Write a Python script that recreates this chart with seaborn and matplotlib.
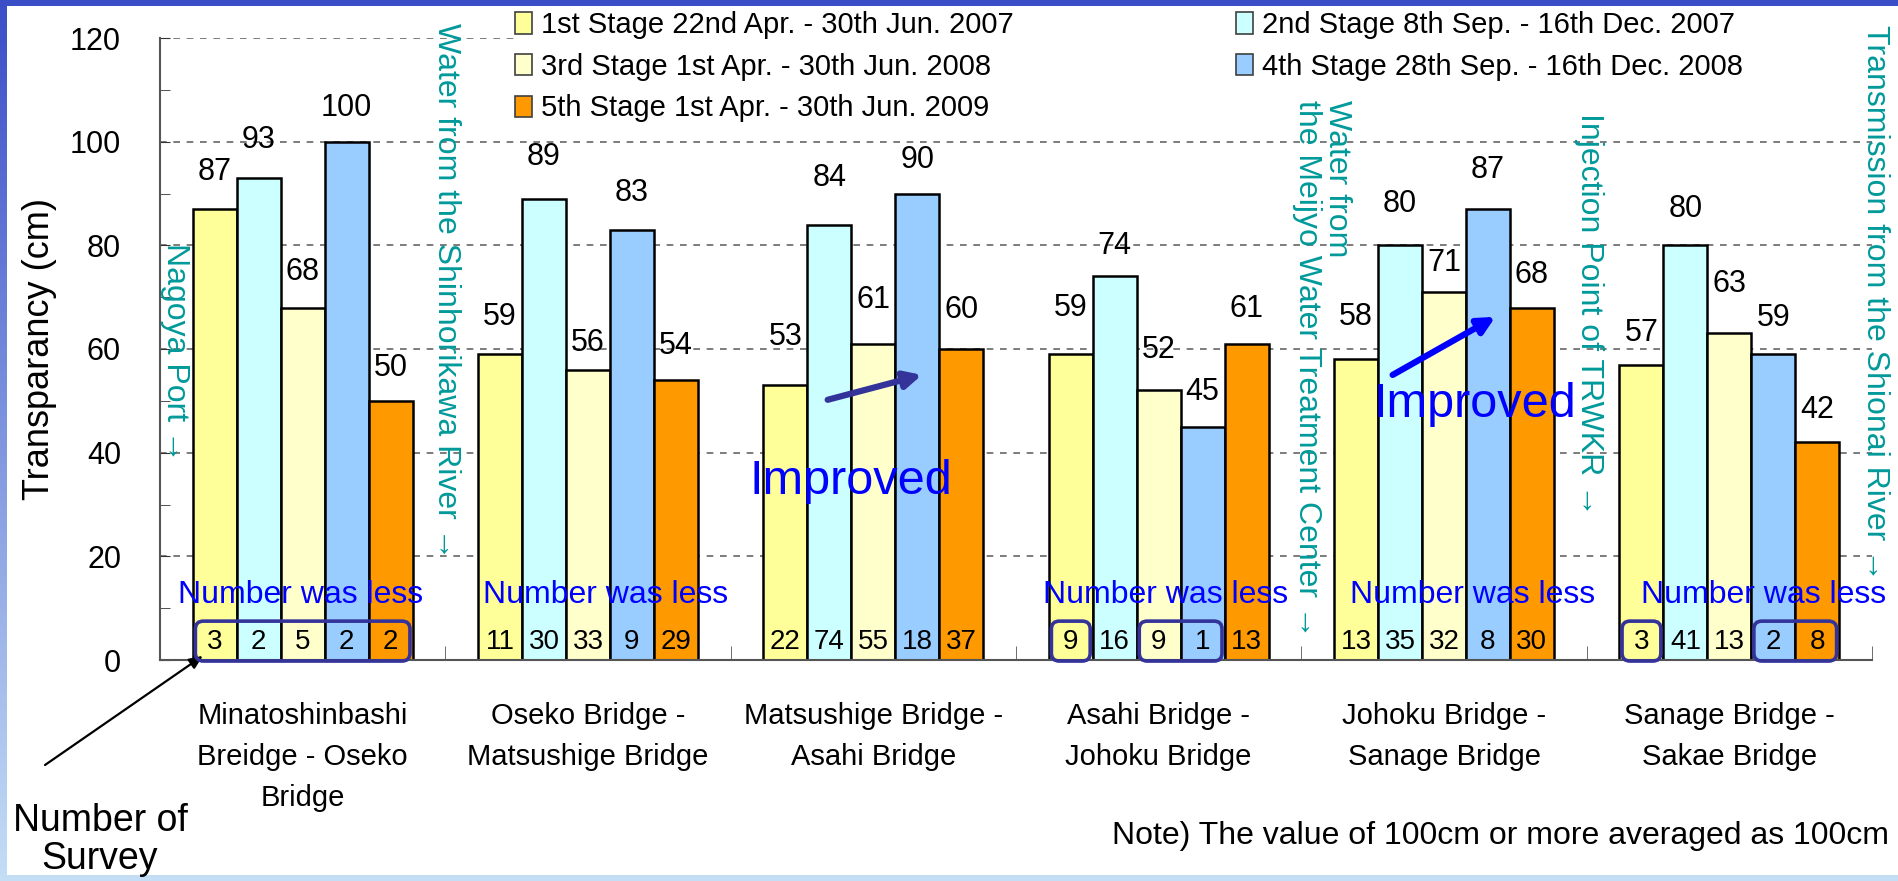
import matplotlib
matplotlib.use("Agg")
import matplotlib.pyplot as plt
import numpy as np
import pandas as pd
import seaborn as sns
from matplotlib import font_manager
from matplotlib.colors import LinearSegmentedColormap
from matplotlib.font_manager import FontProperties
from matplotlib.patches import FancyBboxPatch, Patch, Rectangle
from matplotlib.ticker import MultipleLocator, FixedLocator

# data
segments = ["Minatoshinbashi\nBreidge - Oseko\nBridge", "Oseko Bridge -\nMatsushige Bridge",
            "Matsushige Bridge -\nAsahi Bridge", "Asahi Bridge -\nJohoku Bridge",
            "Johoku Bridge -\nSanage Bridge", "Sanage Bridge -\nSakae Bridge"]
stages = ["1st Stage 22nd Apr. - 30th Jun. 2007", "2nd Stage 8th Sep. - 16th Dec. 2007",
          "3rd Stage 1st Apr. - 30th Jun. 2008", "4th Stage 28th Sep. - 16th Dec. 2008",
          "5th Stage 1st Apr. - 30th Jun. 2009"]
stage1 = [87, 59, 53, 59, 58, 57]
stage2 = [93, 89, 84, 74, 80, 80]
stage3 = [68, 56, 61, 52, 71, 63]
stage4 = [100, 83, 90, 45, 87, 59]
stage5 = [50, 54, 60, 61, 68, 42]
count1 = [3, 11, 22, 9, 13, 3]
count2 = [2, 30, 74, 16, 35, 41]
count3 = [5, 33, 55, 9, 32, 13]
count4 = [2, 9, 18, 1, 8, 2]
count5 = [2, 29, 37, 13, 30, 8]
values = [stage1, stage2, stage3, stage4, stage5]
counts = [count1, count2, count3, count4, count5]
colors = ["#ffff99", "#ccffff", "#ffffcc", "#99ccff", "#ff9900"]

# how far each value label sits above its bar (px), per segment / stage
label_lift = [[37, 38, 36, 34, 33], [37, 42, 27, 37, 34], [48, 47, 44, 34, 39],
              [46, 30, 40, 35, 35], [42, 41, 29, 39, 33], [32, 36, 49, 36, 32]]
# (segment, first stage, last stage) of the "few surveys" boxes
few_boxes = [(0, 0, 4), (3, 0, 0), (3, 2, 3), (5, 0, 0), (5, 3, 4)]

available = {f.name for f in font_manager.fontManager.ttflist}
REG = "Liberation Sans"
NARROW = "Liberation Sans Narrow" if "Liberation Sans Narrow" in available else REG
TEAL = "#009999"

rows = []
for st, vals in zip(stages, values):
    for seg, v in zip(segments, vals):
        rows.append((seg, st, v))
df = pd.DataFrame(rows, columns=["segment", "stage", "value"])

W, H = 1899, 881
fig = plt.figure(figsize=(W / 100, H / 100), dpi=100)

# slide background: vertical blue gradient with a white panel
bg = fig.add_axes([0, 0, 1, 1], zorder=0)
cmap = LinearSegmentedColormap.from_list("bg", ["#3a4ec8", "#c4def6"])
bg.imshow(np.linspace(0, 1, 256)[:, None], cmap=cmap, aspect="auto",
          extent=[0, 1, 0, 1], origin="upper")
bg.add_patch(Rectangle((7 / W, 6 / H), 1, 869 / H, transform=bg.transAxes,
                       facecolor="white", edgecolor="none"))
bg.axis("off")

ax = fig.add_axes([160 / W, 1 - 660 / H, 1712 / W, 622 / H], zorder=1)
sns.barplot(data=df, x="segment", y="value", hue="stage", order=segments,
            hue_order=stages, palette=colors, width=0.77, gap=0, saturation=1,
            edgecolor="black", linewidth=1.8, errorbar=None, legend=False, ax=ax)

ax.set_xlim(-0.5, 5.5)
ax.set_ylim(0, 120)
ax.yaxis.set_major_locator(MultipleLocator(20))
ax.yaxis.set_minor_locator(MultipleLocator(10))
# dashed gridlines; the top one stops where the legend box starts
for gy in range(20, 121, 20):
    ax.axhline(gy, xmax=0.207 if gy == 120 else 1, linestyle=(0, (4, 4)),
               color="#666666", linewidth=1.2, zorder=0.5)
for s in ["top", "right"]:
    ax.spines[s].set_visible(False)
for s in ["left", "bottom"]:
    ax.spines[s].set_color("#555555")
    ax.spines[s].set_linewidth(1.5)
ax.tick_params(axis="y", which="both", direction="in", length=7, color="#333333", pad=28)
ax.set_yticks(range(0, 121, 20))
ax.set_yticklabels([str(v) for v in range(0, 121, 20)], fontsize=22, family=NARROW)
ax.xaxis.set_minor_locator(FixedLocator(np.arange(0.5, 6, 1)))
ax.tick_params(axis="x", which="minor", direction="in", length=10, color="#555555")
ax.tick_params(axis="x", which="major", length=0, pad=30)
ax.set_xticks(range(len(segments)))
ax.set_xticklabels(segments, fontsize=21, family=NARROW, linespacing=1.6)
ax.set_xlabel("")
ax.set_ylabel("Transparancy (cm)", fontsize=26, family=REG)
ax.yaxis.set_label_coords(-0.060, 0.5)

# value labels and survey counts
for i, cont in enumerate(ax.containers):
    for j, bar in enumerate(cont):
        cx = bar.get_x() + bar.get_width() / 2
        ax.annotate(str(values[i][j]), (cx, values[i][j]), xytext=(0, label_lift[j][i] * 0.72),
                    textcoords="offset points", ha="center", va="center",
                    fontsize=22, family=REG, annotation_clip=False)
        ax.text(cx, 3.5, str(counts[i][j]), ha="center", va="center",
                fontsize=20, family=NARROW, zorder=6)

for seg, a, b in few_boxes:
    ba, bb = ax.containers[a][seg], ax.containers[b][seg]
    x0 = ba.get_x() + ba.get_width() / 2 - 0.068
    x1 = bb.get_x() + bb.get_width() / 2 + 0.068
    ax.add_patch(FancyBboxPatch((x0, -0.2), x1 - x0, 7.7,
                                boxstyle="round,pad=0,rounding_size=0.028", mutation_aspect=55,
                                fill=False, edgecolor="#333399", linewidth=2.6,
                                clip_on=False, zorder=7))

for xx in [-0.007, 1.06, 3.025, 4.10, 5.12]:
    ax.text(xx, 12.5, "Number was less", ha="center", va="center", fontsize=23,
            family=NARROW, color="#0000ff", zorder=8, clip_on=False)

ax.text(1.92, 34.5, "Improved", ha="center", va="center", fontsize=35, family=REG,
        color="#0000ff", zorder=8)
ax.text(4.107, 49.3, "Improved", ha="center", va="center", fontsize=35, family=REG,
        color="#0000ff", zorder=8)
ax.annotate("", xy=(2.17, 55.0), xytext=(1.84, 50.2),
            arrowprops=dict(arrowstyle="-|>,head_length=1.0,head_width=0.5",
                            color="#333399", lw=4.5, shrinkA=0, shrinkB=0), zorder=8)
ax.annotate("", xy=(4.18, 66.2), xytext=(3.82, 55.0),
            arrowprops=dict(arrowstyle="-|>,head_length=1.0,head_width=0.5",
                            color="#0000ff", lw=4.5, shrinkA=0, shrinkB=0), zorder=8)

# landmarks along the river
landmarks = [(-0.447, 80.5, "Nagoya Port \u2192"),
             (0.504, 122.8, "Water from the Shinhorikawa River \u2192"),
             (3.574, 108.1, "Water from\nthe Meijyo Water Treatment Center \u2192"),
             (4.507, 105.6, "Injection Point of TRWKR \u2192"),
             (5.51, 122.6, "Transmission from the Shionai River \u2192")]
for xx, yy, txt in landmarks:
    ax.text(xx, yy, txt, rotation=-90, ha="center", va="top", multialignment="left",
            fontsize=23, family=REG, color=TEAL, clip_on=False, zorder=11, linespacing=1.0)

order = [0, 2, 4, 1, 3]
handles = [Patch(facecolor=colors[k], edgecolor="#404040", linewidth=1.2) for k in order]
leg = ax.legend(handles, [stages[k] for k in order], loc="upper left",
                bbox_to_anchor=(515 / W, 1 - 11 / H), bbox_transform=fig.transFigure,
                ncol=2, frameon=True, framealpha=1, fancybox=False, borderpad=0,
                borderaxespad=0, handlelength=0.6, handleheight=0.75, handletextpad=0.3,
                labelspacing=0.47, columnspacing=7.6, prop=FontProperties(family=NARROW, size=21))
leg.get_frame().set_edgecolor("none")
leg.set_zorder(10)

fig.text(100 / W, 1 - 840 / H, "Number of\nSurvey", ha="center", va="center",
         fontsize=27, family=NARROW, linespacing=1.1)
ax.annotate("", xy=(-0.35, 0.8), xytext=(45, H - 765), textcoords="figure pixels",
            arrowprops=dict(arrowstyle="-|>,head_length=0.8,head_width=0.35",
                            color="black", lw=1.6, shrinkA=0, shrinkB=0),
            annotation_clip=False)
fig.text(1889 / W, 1 - 836 / H, "Note) The value of 100cm or more averaged as 100cm",
         ha="right", va="center", fontsize=23, family=NARROW)

fig.savefig("out.png", dpi=100)
